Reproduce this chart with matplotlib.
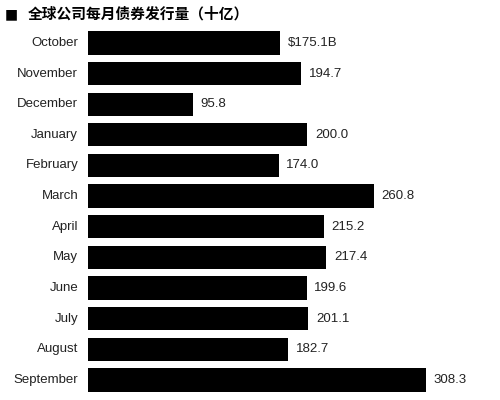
import matplotlib.pyplot as plt

months = ['October', 'November', 'December', 'January', 'February', 'March',
          'April', 'May', 'June', 'July', 'August', 'September']
values = [175.1, 194.7, 95.8, 200.0, 174.0, 260.8, 215.2, 217.4, 199.6, 201.1, 182.7, 308.3]
labels = ['$175.1B', '194.7', '95.8', '200.0', '174.0', '260.8',
          '215.2', '217.4', '199.6', '201.1', '182.7', '308.3']

fig = plt.figure(figsize=(5, 4), dpi=100)
ax = fig.add_axes([0.176, 0.012, 0.824, 0.919])

ax.barh(range(len(months)), values, height=0.76, color='black')
ax.set_xlim(0, 376)
ax.set_ylim(len(months) - 0.5, -0.5)

for i, (v, t) in enumerate(zip(values, labels)):
    ax.text(v + 7, i, t, va='center', ha='left', fontsize=9.5,
            family='Liberation Sans', color='#222222')
    ax.text(-9, i, months[i], va='center', ha='right', fontsize=9.5,
            family='Liberation Sans', color='#222222')

ax.axis('off')

fig.text(0.01, 0.965, '■', fontsize=10, va='center', ha='left',
         family=['DejaVu Sans'])
fig.text(0.056, 0.965, '全球公司每月债券发行量（十亿）', fontsize=10.6, fontweight='bold',
         va='center', ha='left', family=['Noto Sans CJK SC', 'DejaVu Sans'])

fig.savefig('out.png', dpi=100)
